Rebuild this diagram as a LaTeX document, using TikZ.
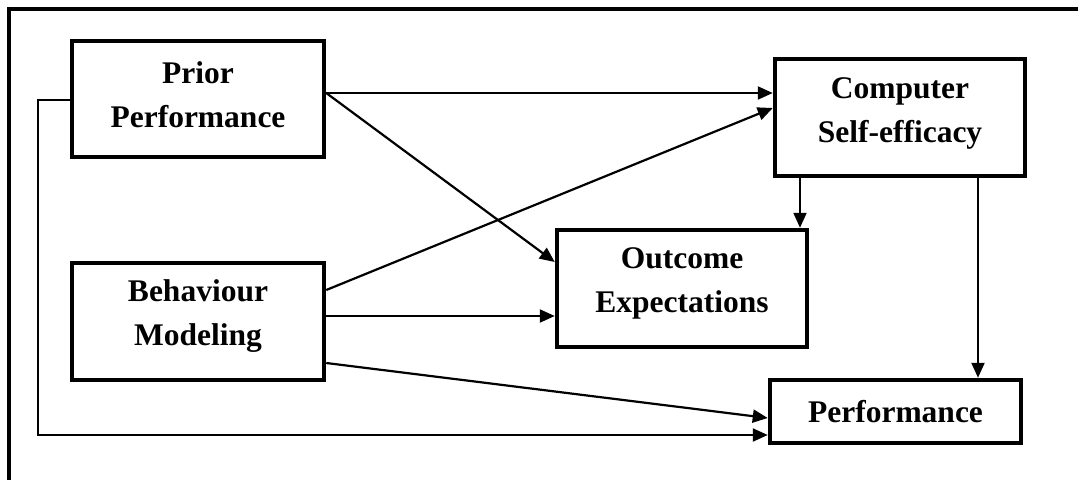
\documentclass[tikz,border=0pt]{standalone}
\usepackage{fontspec}
\setmainfont{Liberation Serif}
\usetikzlibrary{arrows.meta}
\begin{document}
\begin{tikzpicture}[x=1pt,y=-1pt,
  box/.style={draw, line width=4.5pt, rectangle, inner sep=0pt},
  label text/.style={align=center, inner sep=0pt,
    font=\fontsize{31.5}{44}\selectfont\bfseries},
  conn/.style={line width=2.2pt, -{Triangle[length=15pt,width=13pt]}}]
  \useasboundingbox (0,0) rectangle (1078,480);
  % frame (only its top and left edges fall on the page)
  \draw[line width=4.5pt] (9,480) -- (9,9) -- (1078,9);

  % boxes
  \node[box, minimum width=252pt, minimum height=116pt] (prior) at (198,99) {};
  \node[box, minimum width=252pt, minimum height=117pt] (behav) at (198,321.5) {};
  \node[box, minimum width=250pt, minimum height=117pt] (cse) at (900,117.5) {};
  \node[box, minimum width=250pt, minimum height=117pt] (outc) at (682,288.5) {};
  \node[box, minimum width=251pt, minimum height=63pt] (perf) at (895.5,411.5) {};

  % box texts
  \node[label text, yshift=4.5pt] (priort) at (prior.center) {Prior\\Performance};
  \node[label text, yshift=5pt] (behavt) at (behav.center) {Behaviour\\Modeling};
  \node[label text, yshift=4.5pt] (cset) at (cse.center) {Computer\\Self-efficacy};
  \node[label text, yshift=5pt] (outct) at (outc.center) {Outcome\\Expectations};
  \node[label text] (perft) at (perf.center) {Performance};

  % paths
  \draw[conn] (prior.east |- 0,93) -- (cse.west |- 0,93);
  \draw[conn] (prior.east |- 0,93) -- (outc.west |- 0,262);
  \draw[conn] (behav.east |- 0,290) -- (cse.west |- 0,108);
  \draw[conn] (behav.east |- 0,316) -- (outc.west |- 0,316);
  \draw[conn] (behav.east |- 0,363) -- (perf.west |- 0,418);
  \draw[conn] (prior.west |- 0,100) -| (38,435) -- (perf.west |- 0,435);
  \draw[conn] (cse.south -| 800,0) -- (outc.north -| 800,0);
  \draw[conn] (cse.south -| 978,0) -- (perf.north -| 978,0);
\end{tikzpicture}
\end{document}
